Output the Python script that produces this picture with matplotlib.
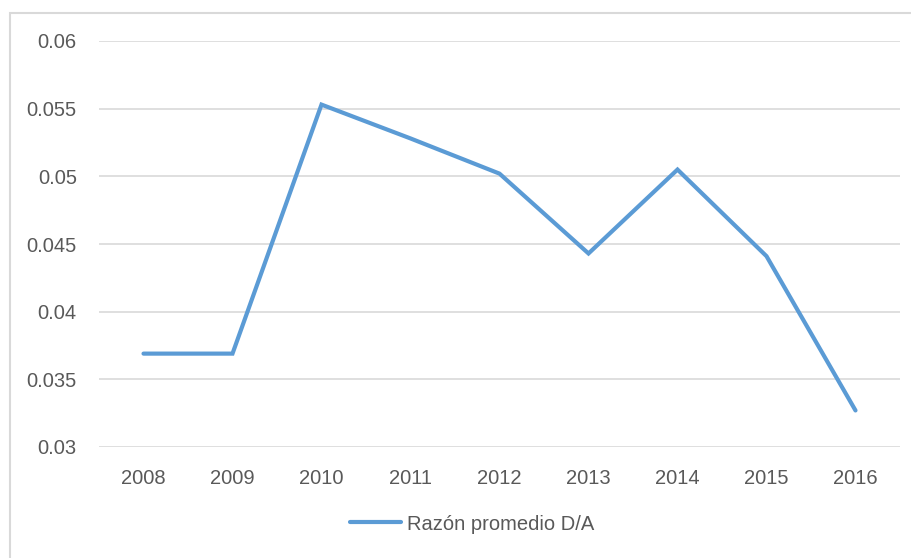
import matplotlib.pyplot as plt
from matplotlib.patches import Rectangle

years = ["2008", "2009", "2010", "2011", "2012", "2013", "2014", "2015", "2016"]
ratio = [0.0369, 0.0369, 0.0553, 0.0528, 0.0502, 0.0443, 0.0505, 0.0441, 0.0327]
yticks = [0.03, 0.035, 0.04, 0.045, 0.05, 0.055, 0.06]
ytick_labels = ["0.03", "0.035", "0.04", "0.045", "0.05", "0.055", "0.06"]

plt.rcParams['font.family'] = ['Liberation Sans', 'DejaVu Sans']

fig = plt.figure(figsize=(9.12, 5.58), dpi=100)
ax = fig.add_axes([99 / 912, 1 - 447 / 558, (900 - 99) / 912, (447 - 41) / 558])

# chart border like Excel
fig.patches.append(Rectangle((10 / 912, -0.1), 1.2, 1.1 - 13 / 558, transform=fig.transFigure,
                             fill=False, edgecolor="#d9d9d9", lw=1.5))

x = range(len(years))
ax.plot(x, ratio, color="#5B9BD5", lw=3.0, solid_capstyle="round", solid_joinstyle="miter",
        label="Razón promedio D/A")

ax.set_xlim(-0.5, len(years) - 0.5)
ax.set_ylim(0.03, 0.06)
ax.set_xticks(list(x))
ax.set_xticklabels(years)
ax.set_yticks(yticks)
ax.set_yticklabels(ytick_labels)
ax.grid(axis="y", color="#d9d9d9", lw=1.2)
ax.set_axisbelow(True)
for s in ax.spines.values():
    s.set_visible(False)
ax.tick_params(length=0, labelsize=14.5, colors="#595959", pad=16)
ax.tick_params(axis="y", pad=16)

fig.legend(loc="center", bbox_to_anchor=(472 / 912, 1 - 524 / 558), frameon=False,
           fontsize=14.5, labelcolor="#595959", handlelength=2.5, handletextpad=0.3)

fig.savefig("out.png", dpi=100)
